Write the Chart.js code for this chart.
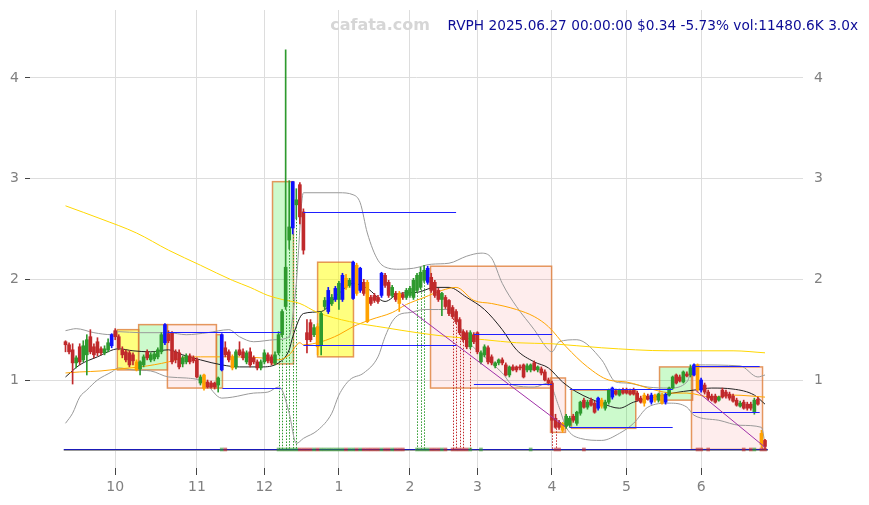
<!DOCTYPE html>
<html>
<head>
<meta charset="utf-8">
<script src="https://cdn.jsdelivr.net/npm/chart.js@4.4.1/dist/chart.umd.min.js"></script>
<style>
html,body{margin:0;padding:0;background:#fff;}
</style>
</head>
<body>
<canvas id="priceChart" width="869" height="505"></canvas>
<script>
// month ticks (index of first session of each month)
const monthTicks=[14,37,56,77,97,116,137,158,179];
const monthLabels=["10","11","12","1","2","3","4","5","6"];
const priceTicks=[1,2,3,4];

// daily candles [open,high,low,close]
const sep=[[1.38,1.39,1.28,1.35],[1.35,1.37,1.26,1.28],[1.30,1.36,0.96,1.17],[1.17,1.24,1.12,1.22],[1.33,1.36,1.15,1.18],[1.20,1.39,1.18,1.34],[1.25,1.45,1.05,1.40],
[1.43,1.50,1.26,1.28],[1.33,1.36,1.22,1.25],[1.38,1.42,1.24,1.27],[1.31,1.33,1.25,1.27],[1.27,1.34,1.25,1.31],[1.30,1.41,1.28,1.37],[1.34,1.46,1.32,1.45]];
const oct=[[1.49,1.51,1.40,1.43],[1.43,1.45,1.30,1.32],[1.30,1.33,1.22,1.25],[1.28,1.30,1.18,1.20],[1.27,1.29,1.13,1.15],[1.25,1.27,1.15,1.19],[1.18,1.20,1.09,1.10],
[1.11,1.19,1.05,1.18],[1.15,1.25,1.13,1.23],[1.28,1.30,1.20,1.22],[1.20,1.27,1.18,1.25],[1.21,1.28,1.19,1.26],[1.23,1.32,1.21,1.30],[1.28,1.47,1.26,1.45],
[1.37,1.56,1.35,1.55],[1.46,1.49,1.37,1.39],[1.47,1.48,1.16,1.18],[1.28,1.30,1.17,1.20],[1.27,1.30,1.11,1.13],[1.16,1.24,1.13,1.22],[1.18,1.26,1.16,1.24],
[1.24,1.26,1.16,1.18],[1.22,1.24,1.17,1.19]];
const nov=[[1.20,1.22,1.02,1.03],[0.97,1.05,0.95,1.03],[1.05,1.06,0.90,0.92],[0.98,1.00,0.92,0.93],[0.97,0.99,0.92,0.93],[0.97,0.98,0.91,0.93],[0.95,1.03,0.88,1.02],
[1.10,1.46,1.09,1.45],[1.32,1.38,1.23,1.25],[1.28,1.30,1.18,1.20],[1.23,1.25,1.10,1.12],[1.13,1.30,1.11,1.28],[1.30,1.38,1.24,1.25],[1.28,1.31,1.20,1.22],
[1.18,1.29,1.16,1.27],[1.28,1.32,1.13,1.15],[1.22,1.24,1.16,1.18],[1.18,1.20,1.10,1.12],[1.12,1.20,1.10,1.18]];
const dec=[[1.18,1.30,1.16,1.27],[1.25,1.27,1.17,1.19],[1.23,1.25,1.15,1.17],[1.17,1.28,1.15,1.25],[1.27,1.48,1.25,1.45],[1.45,1.70,1.43,1.68],[1.73,4.28,1.70,2.12],
[2.39,2.98,2.30,2.52],[2.51,2.97,2.45,2.97],[2.74,2.90,2.60,2.79],[2.94,2.96,2.55,2.62],[2.67,2.70,2.25,2.29],[1.47,1.60,1.27,1.40],[1.57,1.60,1.38,1.40],
[1.45,1.55,1.43,1.52],[1.53,1.56,1.25,1.33],[1.35,1.68,1.25,1.66],[1.73,1.82,1.70,1.79],[1.68,1.92,1.66,1.89],[1.76,1.85,1.74,1.82],[1.80,1.93,1.78,1.91]];
const jan=[[1.80,1.98,1.70,1.96],[1.80,2.06,1.78,2.04],[2.01,2.05,1.90,1.92],[1.94,2.01,1.92,1.99],[1.81,2.18,1.80,2.17],[2.14,2.16,1.84,1.86],[1.89,2.12,1.87,2.11],
[1.97,2.00,1.84,1.86],[1.97,1.99,1.57,1.58],[1.82,1.84,1.74,1.76],[1.84,1.86,1.77,1.79],[1.82,1.84,1.76,1.78],[1.84,2.07,1.82,2.06],[2.04,2.06,1.92,1.94],
[1.97,1.99,1.82,1.84],[1.84,1.94,1.82,1.92],[1.86,1.88,1.78,1.80],[1.86,1.88,1.68,1.76],[1.85,1.87,1.80,1.82],[1.82,1.91,1.80,1.89]];
const feb=[[1.84,1.93,1.82,1.91],[1.82,2.01,1.80,1.99],[1.89,2.06,1.87,2.04],[1.92,2.12,1.90,2.07],[1.99,2.14,1.97,2.09],[1.97,2.13,1.95,2.11],[2.02,2.06,1.87,1.89],
[1.97,1.99,1.82,1.84],[1.89,1.91,1.78,1.80],[1.80,1.87,1.64,1.86],[1.82,1.84,1.71,1.73],[1.79,1.80,1.64,1.66],[1.72,1.74,1.61,1.63],[1.68,1.70,1.56,1.58],
[1.60,1.62,1.45,1.47],[1.48,1.50,1.38,1.40],[1.47,1.49,1.31,1.33],[1.33,1.49,1.31,1.47],[1.45,1.47,1.36,1.38]];
const mar=[[1.47,1.48,1.26,1.28],[1.18,1.29,1.16,1.27],[1.25,1.35,1.23,1.33],[1.32,1.34,1.16,1.18],[1.23,1.25,1.15,1.17],[1.14,1.18,1.12,1.17],[1.17,1.21,1.15,1.20],
[1.20,1.22,1.15,1.17],[1.15,1.17,1.04,1.05],[1.05,1.14,1.03,1.13],[1.13,1.15,1.09,1.10],[1.13,1.14,1.08,1.10],[1.13,1.15,1.10,1.12],[1.15,1.16,1.02,1.03],
[1.10,1.16,1.08,1.14],[1.10,1.16,1.08,1.15],[1.17,1.19,1.09,1.10],[1.10,1.14,1.08,1.13],[1.11,1.13,1.05,1.07],[1.08,1.10,0.99,1.00],[1.00,1.02,0.95,0.97]];
const apr=[[0.97,0.99,0.48,0.60],[0.62,0.66,0.52,0.53],[0.58,0.60,0.51,0.53],[0.57,0.58,0.48,0.50],[0.54,0.66,0.52,0.64],[0.55,0.64,0.53,0.62],[0.64,0.66,0.58,0.60],
[0.57,0.69,0.55,0.68],[0.67,0.79,0.65,0.78],[0.80,0.82,0.72,0.73],[0.73,0.80,0.71,0.78],[0.80,0.82,0.74,0.75],[0.77,0.79,0.67,0.68],[0.72,0.83,0.70,0.82],
[0.80,0.82,0.72,0.74],[0.72,0.80,0.70,0.78],[0.78,0.91,0.76,0.90],[0.83,0.93,0.81,0.92],[0.89,0.91,0.85,0.86],[0.85,0.91,0.84,0.90],[0.90,0.92,0.86,0.87]];
const may=[[0.90,0.92,0.86,0.87],[0.89,0.91,0.85,0.86],[0.90,0.92,0.85,0.86],[0.87,0.89,0.79,0.80],[0.82,0.84,0.77,0.78],[0.85,0.87,0.74,0.77],[0.84,0.86,0.80,0.81],
[0.78,0.87,0.76,0.85],[0.85,0.86,0.78,0.80],[0.80,0.87,0.78,0.86],[0.85,0.87,0.76,0.77],[0.78,0.87,0.76,0.85],[0.85,0.93,0.84,0.92],[0.92,1.04,0.91,1.03],
[1.05,1.06,0.96,0.97],[1.03,1.05,0.98,0.99],[0.98,1.09,0.97,1.08],[1.06,1.08,1.03,1.04],[1.05,1.15,1.03,1.12],[1.05,1.16,1.04,1.15],[1.15,1.16,0.88,0.90]];
const jun=[[1.00,1.02,0.88,0.90],[0.95,0.97,0.86,0.88],[0.88,0.90,0.80,0.82],[0.84,0.86,0.79,0.80],[0.84,0.86,0.77,0.78],[0.80,0.84,0.79,0.83],[0.90,0.92,0.82,0.83],
[0.88,0.90,0.82,0.84],[0.86,0.88,0.80,0.82],[0.84,0.86,0.78,0.79],[0.80,0.82,0.74,0.75],[0.74,0.79,0.73,0.77],[0.78,0.80,0.71,0.72],[0.76,0.78,0.70,0.72],
[0.76,0.78,0.70,0.72],[0.68,0.82,0.66,0.80],[0.81,0.83,0.75,0.76],[0.47,0.50,0.33,0.36],[0.40,0.41,0.31,0.34]];
const candles=[...sep,...oct,...nov,...dec,...jan,...feb,...mar,...apr,...may,...jun];

// signal candles
const blueBars=[13,28,44,64,74,76,78,81,83,89,102,150,154,165,169,177,179];
const orangeBars=[20,39,47,71,79,82,85,94,140,151,163,166,168,178,196];

// indicator lines [index,value]
const sma20=[[0,1.03],[4,1.15],[9,1.23],[15,1.31],[19,1.29],[24,1.28],[29,1.30],[33,1.25],[38,1.20],[44,1.15],[49,1.13],[55,1.13],[60,1.17],[63,1.30],[64,1.43],[67,1.66],[72,1.68],[77,1.86],[81,1.96],[85,1.91],[90,1.78],[94,1.86],[99,1.87],[104,1.92],[108,1.92],[113,1.82],[118,1.70],[123,1.50],[127,1.30],[132,1.18],[136,1.12],[140,0.98],[144,0.88],[151,0.77],[156,0.72],[160,0.78],[166,0.83],[171,0.87],[177,0.90],[182,0.92],[188,0.91],[194,0.85],[197,0.76]];
const bandUp=[[0,1.49],[3,1.51],[8,1.47],[13,1.45],[15,1.48],[21,1.47],[29,1.47],[34,1.45],[40,1.47],[46,1.50],[49,1.43],[53,1.38],[59,1.40],[63,1.43],[64,1.63],[65,1.96],[67,2.86],[77,2.86],[81,2.84],[83,2.76],[85,2.46],[88,2.19],[91,2.11],[94,2.10],[98,2.11],[103,2.15],[108,2.16],[113,2.23],[117,2.26],[120,2.21],[123,1.96],[127,1.73],[132,1.50],[136,1.30],[137,1.28],[139,1.38],[144,1.40],[151,1.20],[155,0.98],[158,0.97],[164,0.93],[170,0.92],[175,0.98],[177,1.15],[190,1.14],[195,1.03],[197,1.05]];
const bandLow=[[0,0.57],[2,0.67],[4,0.83],[6,0.90],[9,1.00],[13,1.08],[15,1.12],[19,1.10],[24,1.09],[29,1.03],[34,1.02],[39,0.98],[44,0.82],[47,0.83],[53,0.87],[57,0.88],[60,0.93],[61,0.90],[63,0.67],[65,0.37],[67,0.42],[71,0.50],[75,0.67],[77,0.85],[80,1.00],[84,1.07],[88,1.23],[90,1.43],[92,1.58],[94,1.65],[97,1.67],[101,1.70],[105,1.70],[108,1.70],[113,1.40],[118,1.23],[123,1.07],[126,0.95],[132,0.93],[136,0.97],[139,0.73],[141,0.53],[145,0.42],[151,0.40],[156,0.47],[160,0.57],[164,0.73],[170,0.77],[175,0.73],[177,0.65],[184,0.60],[190,0.55],[196,0.53],[197,0.37]];
const sma50=[[0,1.07],[4,1.08],[10,1.09],[15,1.11],[21,1.13],[29,1.18],[33,1.22],[38,1.23],[44,1.23],[47,1.23],[55,1.22],[60,1.20],[63,1.25],[66,1.37],[67,1.35],[72,1.38],[77,1.45],[81,1.53],[86,1.60],[92,1.67],[96,1.75],[101,1.82],[106,1.89],[110,1.92],[115,1.79],[120,1.76],[127,1.70],[132,1.63],[136,1.53],[141,1.33],[147,1.13],[153,1.00],[158,0.98],[166,0.90],[171,0.87],[175,0.87],[182,0.83],[188,0.85],[197,0.83]];
const sma200=[[0,2.73],[10,2.60],[20,2.46],[29,2.29],[38,2.14],[47,1.99],[52,1.92],[57,1.84],[61,1.80],[66,1.76],[71,1.67],[80,1.58],[90,1.52],[99,1.47],[108,1.43],[118,1.40],[127,1.37],[137,1.36],[151,1.32],[170,1.29],[188,1.29],[197,1.27]];

// range boxes [from,to,low,high,kind]
const boxes=[[14.6,20.6,1.10,1.50,"y"],[20.6,28.7,1.10,1.55,"g"],[28.7,42.5,0.92,1.55,"r"],[42.5,44.2,0.92,1.45,"g"],
[58.3,64.2,1.16,2.97,"g"],[71,81.1,1.23,2.17,"y"],[102.8,136.9,0.92,2.13,"r"],[136.6,140.8,0.48,1.02,"r"],
[142.5,160.6,0.52,0.90,"g"],[167.3,176.6,0.80,1.13,"g"],[176.3,196.3,0.31,1.13,"r"]];
// support / resistance [from,to,price]
const levels=[[28.7,60.6,1.477],[44.2,60.6,0.92],[67,110,2.67],[67,110,1.35],[115,137,1.46],[115,137,0.96],
[142,171,0.91],[142,171,0.53],[176.6,195.5,1.14],[176.6,195.5,0.68]];
// trend lines [x0,y0,x1,y1]
const trends=[[94.8,1.755,140.8,0.533],[177.4,0.90,196.9,0.335]];
// volume spike markers
const upMarks=[60,61,62,63,64,65,99,100,101];
const downMarks=[109,110,111,112,114,137,138];
const volBars=[44,45,60,61,62,63,64,65,66,67,68,69,70,71,72,73,74,75,76,77,78,79,80,81,82,83,84,85,86,87,88,89,90,91,92,93,94,95,99,100,101,102,103,104,105,106,107,109,110,111,112,113,114,117,131,138,139,146,178,179,181,191,193,194,196,197];
const volBase=0.31;

const UP="#2e9a2e",DOWN="#c0292b";
const boxFill={y:"rgba(255,255,0,0.5)",g:"rgba(0,230,0,0.2)",r:"rgba(240,0,0,0.07)"};

const barColor=candles.map((c,i)=>{
  if(blueBars.includes(i)) return "#1010ff";
  if(orangeBars.includes(i)) return "#ffa200";
  return c[3]>=c[0]?UP:DOWN;
});

function line(points,color,width){
  return {type:"line",data:points.map(p=>({x:p[0],y:p[1]})),borderColor:color,borderWidth:width,
    pointRadius:0,cubicInterpolationMode:"monotone",order:2};
}
const snap=v=>Math.round(v)+0.5;

const overlay={
  id:"overlay",
  beforeDatasetsDraw(chart){
    const {ctx,scales:{x,y}}=chart;
    ctx.save();
    boxes.forEach(b=>{
      const l=x.getPixelForValue(b[0]),r=x.getPixelForValue(b[1]);
      const t=y.getPixelForValue(b[3]),bt=y.getPixelForValue(b[2]);
      ctx.fillStyle=boxFill[b[4]];
      ctx.fillRect(l,t,r-l,bt-t);
      ctx.strokeStyle="rgba(222,125,55,0.8)";
      ctx.lineWidth=1.5;
      ctx.strokeRect(l,t,r-l,bt-t);
    });
    // dotted spike markers
    ctx.lineWidth=1;
    ctx.setLineDash([1.5,1.5]);
    [[upMarks,UP],[downMarks,DOWN]].forEach(([list,col])=>{
      ctx.strokeStyle=col;
      list.forEach(i=>{
        const px=snap(x.getPixelForValue(i));
        ctx.beginPath();
        ctx.moveTo(px,y.getPixelForValue(candles[i][2]));
        ctx.lineTo(px,y.getPixelForValue(volBase));
        ctx.stroke();
      });
    });
    ctx.setLineDash([]);
    // volume baseline
    const x0=x.getPixelForValue(-0.5),x1=x.getPixelForValue(197.8),yb=Math.round(y.getPixelForValue(volBase));
    ctx.strokeStyle="#999";
    ctx.beginPath();ctx.moveTo(x0,yb+1.5);ctx.lineTo(x1,yb+1.5);ctx.stroke();
    ctx.strokeStyle="#1a1ab8";
    ctx.beginPath();ctx.moveTo(x0,yb+0.5);ctx.lineTo(x1,yb+0.5);ctx.stroke();
    ctx.restore();
  },
  afterDatasetsDraw(chart){
    const {ctx,scales:{x,y}}=chart;
    ctx.save();
    ctx.lineWidth=1;
    ctx.strokeStyle="#1f1fff";
    levels.forEach(l=>{
      const py=snap(y.getPixelForValue(l[2]));
      ctx.beginPath();ctx.moveTo(x.getPixelForValue(l[0]),py);ctx.lineTo(x.getPixelForValue(l[1]),py);ctx.stroke();
    });
    ctx.strokeStyle="#a030a8";
    trends.forEach(t=>{
      ctx.beginPath();
      ctx.moveTo(x.getPixelForValue(t[0]),y.getPixelForValue(t[1]));
      ctx.lineTo(x.getPixelForValue(t[2]),y.getPixelForValue(t[3]));
      ctx.stroke();
    });
    ctx.restore();
  },
  afterDraw(chart){
    const ctx=chart.ctx;
    ctx.save();
    ctx.textBaseline="middle";
    ctx.font="bold 16px 'DejaVu Sans'";
    ctx.fillStyle="#d6d6d6";
    ctx.textAlign="center";
    ctx.fillText("cafata.com",380,26);
    ctx.font="13.7px 'DejaVu Sans'";
    ctx.fillStyle="#0c0c96";
    ctx.textAlign="right";
    ctx.fillText("RVPH 2025.06.27 00:00:00 $0.34 -5.73% vol:11480.6K 3.0x",858,26);
    ctx.restore();
  }
};

const tickFont={family:"DejaVu Sans",size:14};
const noPad=s=>{s.paddingTop=0;s.paddingBottom=0;s.paddingLeft=0;s.paddingRight=0;};

new Chart(document.getElementById("priceChart"),{
  type:"bar",
  data:{
    datasets:[
      {type:"bar",data:candles.map((c,i)=>({x:i,y:[c[2],c[1]]})),backgroundColor:barColor,barThickness:1,grouped:false,order:1},
      {type:"bar",data:candles.map((c,i)=>({x:i,y:[c[0],c[3]]})),backgroundColor:barColor,barThickness:3,minBarLength:1,grouped:false,order:0},
      {type:"bar",data:volBars.map(i=>({x:i,y:[volBase-0.015,volBase+0.015]})),
        backgroundColor:volBars.map(i=>candles[i][3]>=candles[i][0]?"rgba(46,154,46,0.6)":"rgba(192,41,43,0.6)"),
        barThickness:3,grouped:false,order:0},
      line(sma200,"#ffd700",1),
      line(sma50,"#ffa500",1),
      line(bandUp,"#999999",1),
      line(bandLow,"#999999",1),
      line(sma20,"#222222",1)
    ]
  },
  options:{
    responsive:false,
    animation:false,
    layout:{padding:{top:10,left:0,right:0,bottom:0}},
    plugins:{legend:{display:false},tooltip:{enabled:false}},
    scales:{
      x:{
        type:"linear",min:-10,max:207.7,offset:false,
        afterBuildTicks:s=>{s.ticks=monthTicks.map(v=>({value:v}));},
        afterFit:s=>{s.height=37;noPad(s);},
        ticks:{callback:v=>monthLabels[monthTicks.indexOf(v)],color:"#808080",font:tickFont,padding:4,maxRotation:0,autoSkip:false},
        grid:{color:"#dddddd",tickColor:"#444",tickLength:7,offset:false},
        border:{display:false}
      },
      y:{
        position:"left",min:0.126,max:4.675,
        afterBuildTicks:s=>{s.ticks=priceTicks.map(v=>({value:v}));},
        afterFit:s=>{s.width=30;noPad(s);},
        ticks:{color:"#808080",font:tickFont,padding:6},
        grid:{color:"#dddddd",tickColor:"#444",tickLength:5},
        border:{display:false}
      },
      y2:{
        position:"right",min:0.126,max:4.675,
        afterBuildTicks:s=>{s.ticks=priceTicks.map(v=>({value:v}));},
        afterFit:s=>{s.width=66;noPad(s);},
        ticks:{color:"#808080",font:tickFont,padding:11},
        grid:{display:false,drawTicks:false},
        border:{display:false}
      }
    }
  },
  plugins:[overlay]
});
</script>
</body>
</html>
